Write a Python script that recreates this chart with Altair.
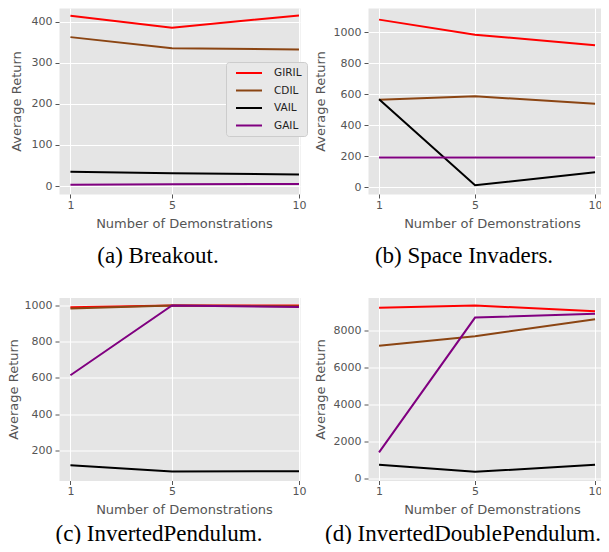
import altair as alt
import pandas as pd

demos = [1, 5, 10]
methods = ["GIRIL", "CDIL", "VAIL", "GAIL"]
colors = ["#ff0000", "#8b4513", "#000000", "#800080"]

breakout = {"GIRIL": [415, 386, 416], "CDIL": [363, 336, 333], "VAIL": [35, 31, 28], "GAIL": [3, 4, 5]}
space_invaders = {"GIRIL": [1080, 983, 914], "CDIL": [563, 585, 538], "VAIL": [566, 11, 95], "GAIL": [191, 191, 191]}
pendulum = {"GIRIL": [990, 1000, 1000], "CDIL": [983, 1000, 996], "VAIL": [119, 84, 86], "GAIL": [615, 1000, 992]}
double_pendulum = {"GIRIL": [9230, 9350, 9040], "CDIL": [7170, 7690, 8610], "VAIL": [740, 360, 740], "GAIL": [1410, 8700, 8900]}

yticks_a = [0, 100, 200, 300, 400]
yticks_b = [0, 200, 400, 600, 800, 1000]
yticks_c = [200, 400, 600, 800, 1000]
yticks_d = [0, 2000, 4000, 6000, 8000]

captions = ["(a) Breakout.", "(b) Space Invaders.", "(c) InvertedPendulum.", "(d) InvertedDoublePendulum."]


def panel(values, caption, xdom, ydom, yticks, width, height, title_x, yext, legend=False, dx=0, offset=14.5):
    rows = []
    for i, m in enumerate(methods):
        for d, v in zip(demos, values[m]):
            rows.append({"demos": d, "ret": v, "method": m, "ord": i})
    df = pd.DataFrame(rows)
    xaxis = alt.Axis(values=demos, title="Number of Demonstrations", labelFlush=False, format="d",
                     labelPadding=1, minExtent=17, maxExtent=17, titleX=title_x)
    if legend:
        leg = alt.Legend(orient="none", legendX=167, legendY=54, title=None,
                         symbolType="M-2.6,0H2.6", symbolSize=100, symbolStrokeWidth=2,
                         symbolOffset=12, labelOffset=19,
                         labelFont="DejaVu Sans", labelFontSize=10.5, labelColor="#222222",
                         fillColor="#e8e8e8", strokeColor="#cccccc", cornerRadius=3,
                         padding=5, rowPadding=5.5)
        color = alt.Color("method:N", scale=alt.Scale(domain=methods, range=colors), legend=leg)
    else:
        color = alt.Color("method:N", scale=alt.Scale(domain=methods, range=colors), legend=None)
    return alt.Chart(df).mark_line(strokeWidth=2, clip=True).encode(
        x=alt.X("demos:Q", scale=alt.Scale(domain=xdom, nice=False, zero=False), axis=xaxis),
        y=alt.Y("ret:Q", scale=alt.Scale(domain=ydom, nice=False, zero=False),
                axis=alt.Axis(values=yticks, title="Average Return", labelFlush=False, format="d",
                              minExtent=yext, maxExtent=yext)),
        color=color,
    ).properties(
        width=width, height=height,
        title=alt.TitleParams(caption, orient="bottom", font="Liberation Serif", fontSize=23,
                              fontWeight="normal", color="black", offset=offset, dx=dx),
    )


pa = panel(breakout, captions[0], [0.55, 10.04], [-19.5, 434], yticks_a, 241, 186, 125, 30,
           legend=True, dx=-21.5)
pb = panel(space_invaders, captions[1], [0.54, 10.29], [-45, 1155], yticks_b, 234, 186, 124, 35, dx=-21)
pc = panel(pendulum, captions[2], [0.55, 10.04], [34.5, 1044], yticks_c, 241, 183, 125, 33,
           dx=-20.5, offset=6)
pd_ = panel(double_pendulum, captions[3], [0.54, 10.29], [-108, 9784], yticks_d, 234, 183, 124, 35,
            dx=-22, offset=6)

top = alt.hconcat(pa, pb, spacing=5).resolve_scale(color="independent")
bottom = alt.hconcat(pc, pd_, spacing=6).resolve_scale(color="independent")

chart = alt.vconcat(top, bottom, spacing=28.5).resolve_scale(color="independent").properties(
    autosize=alt.AutoSizeParams(type="none"),
    padding={"left": 51, "top": 0, "right": 542, "bottom": 536}, background="white"
).configure_axis(
    labelFont="DejaVu Sans", labelFontSize=11, labelColor="#555555",
    tickColor="#555555", tickSize=4, labelPadding=3, domain=False,
    gridColor="#ffffff", gridWidth=1,
    titleFont="DejaVu Sans", titleFontSize=13, titleFontWeight="normal",
    titleColor="#555555", titlePadding=6,
).configure_view(fill="#E5E5E5", stroke="transparent")

chart.save("out.html", embed_options={"renderer": "svg", "actions": False})
